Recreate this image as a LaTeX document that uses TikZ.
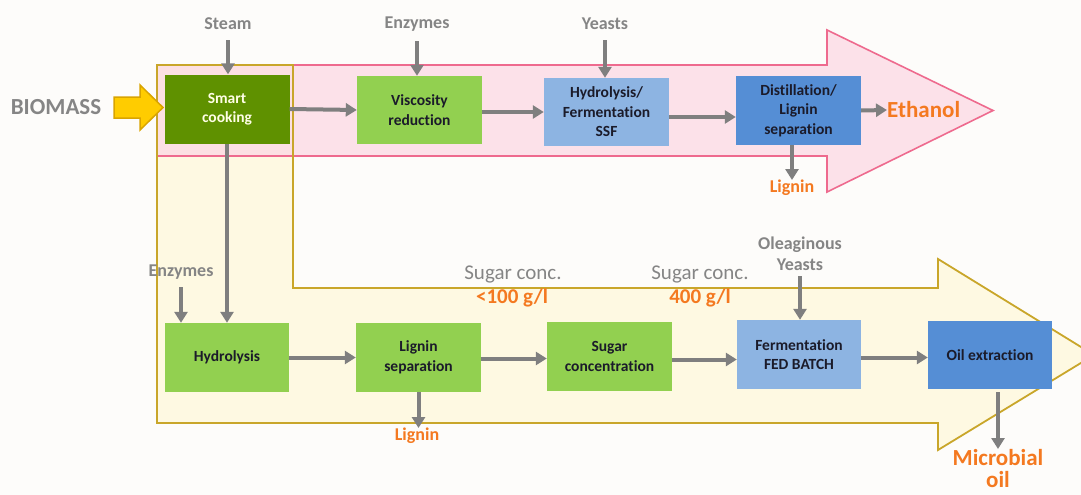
\documentclass[tikz,border=0pt]{standalone}
\usepackage{fontspec}
\setmainfont{Carlito}[Ligatures={NoCommon}]
\usetikzlibrary{arrows.meta}
\definecolor{bg}{HTML}{FDFCFA}
\definecolor{darkgreen}{HTML}{5F9100}
\definecolor{lightgreen}{HTML}{92D050}
\definecolor{lightblue}{HTML}{8DB4E2}
\definecolor{midblue}{HTML}{558ED5}
\definecolor{arrowgray}{HTML}{7F7F7F}
\definecolor{labelgray}{HTML}{858585}
\definecolor{outorange}{HTML}{F47920}
\definecolor{boxtext}{HTML}{1B1B2A}
\definecolor{cream}{HTML}{FEF9E2}
\definecolor{olive}{HTML}{C9A62A}
\definecolor{pinkfill}{HTML}{FCD8E4}
\definecolor{pinkline}{HTML}{EE6A8E}
\definecolor{bioyellow}{HTML}{FFCC00}
\definecolor{bioedge}{HTML}{D9A400}
\tikzset{
  procbox/.style={minimum width=125pt, minimum height=69pt, inner sep=0pt, align=center,
    text=boxtext, font=\fontsize{15.5}{19.5}\selectfont\bfseries},
  conn/.style={draw=arrowgray, line width=4pt, -{Triangle[length=11pt,width=13pt]}},
  inlabel/.style={text=labelgray, font=\fontsize{18}{21}\selectfont\bfseries, inner sep=0pt, align=center},
  outlabel/.style={text=outorange, font=\fontsize{18}{21}\selectfont\bfseries, inner sep=0pt, align=center},
  biglabel/.style={text=outorange, font=\fontsize{23}{22}\selectfont\bfseries, inner sep=0pt, align=center},
  conclabel/.style={text=labelgray, font=\fontsize{21}{24}\selectfont, inner sep=0pt},
  concval/.style={text=outorange, font=\fontsize{21}{24}\selectfont\bfseries, inner sep=0pt},
}
\begin{document}
\begin{tikzpicture}[x=1pt,y=-1pt]
\clip (0,0) rectangle (1081,495);
\fill[bg] (0,0) rectangle (1081,495);

% big yellow arrow (fill)
\fill[cream] (157,65) -- (293,65) -- (293,288) -- (938,288) -- (938,259) -- (1094,355)
  -- (938,450) -- (938,423) -- (157,423) -- cycle;
% pink arrow
\filldraw[fill=pinkfill, fill opacity=0.75, draw=pinkline, line width=1.6pt, line join=miter]
  (157,65) -- (827,65) -- (827,30) -- (993,110.5) -- (827,192) -- (827,156) -- (157,156) -- cycle;
% yellow outline on top
\draw[olive, line width=1.8pt, line join=miter]
  (157,65) -- (293,65) -- (293,288) -- (938,288) -- (938,259) -- (1094,355)
  -- (938,450) -- (938,423) -- (157,423) -- cycle;

% biomass
\node[text=labelgray, font=\fontsize{23}{26}\selectfont\bfseries, inner sep=0pt] (biomass) at (56,107) {BIOMASS};
\filldraw[fill=bioyellow, draw=bioedge, line width=1.5pt, line join=miter]
  (114,97) -- (140,97) -- (140,85) -- (163,107.5) -- (140,130) -- (140,118) -- (114,118) -- cycle;

% top row boxes
\node[procbox, fill=darkgreen, text=white!90!yellow] (smart) at (227,109) {Smart\\cooking};
\node[procbox, fill=lightgreen, minimum height=68pt] (visc) at (419.5,110) {Viscosity\\reduction};
\node[procbox, fill=lightblue, minimum height=68pt] (ssf) at (606.5,112) {Hydrolysis/\\Fermentation\\SSF};
\node[procbox, fill=midblue] (dist) at (798.5,110.5) {Distillation/\\Lignin\\separation};

% bottom row boxes
\node[procbox, fill=lightgreen, minimum width=124pt] (hydro) at (227,357.5) {Hydrolysis};
\node[procbox, fill=lightgreen] (lsep) at (418.5,357.5) {Lignin\\separation};
\node[procbox, fill=lightgreen] (sugar) at (609.5,356.5) {Sugar\\concentration};
\node[procbox, fill=lightblue, minimum width=124pt] (ferm) at (799,354.5) {Fermentation\\FED BATCH};
\node[procbox, fill=midblue, minimum width=124pt, minimum height=68pt] (oil) at (990,355) {Oil extraction};

% input labels
\node[inlabel] (steam) at (228,24) {Steam};
\node[inlabel] (enz1) at (417,24) {Enzymes};
\node[inlabel] (yeast) at (605,24) {Yeasts};
\node[inlabel] (enz2) at (181,272) {Enzymes};
\node[inlabel] (oleag) at (800,254) {Oleaginous\\Yeasts};

% outputs
\node[biglabel, anchor=west] (ethanol) at (887,110) {Ethanol};
\node[outlabel, anchor=north] (lig1) at (792,180) {Lignin};
\node[outlabel, anchor=north] (lig2) at (417,428) {Lignin};
\node[biglabel, anchor=north] (micro) at (998,449) {Microbial\\oil};

% sugar concentration labels
\node[conclabel] (sc1) at (513,274) {Sugar conc.};
\node[concval] (sv1) at (512,298) {<100 g/l};
\node[conclabel] (sc2) at (700,274) {Sugar conc.};
\node[concval] (sv2) at (700,298) {400 g/l};

% connectors
\draw[conn, shorten <=10pt] (steam.south) -- (steam.south |- smart.north);
\draw[conn, shorten <=10pt] (enz1.south) -- (enz1.south |- visc.north);
\draw[conn, shorten <=10pt] (yeast.south) -- (yeast.south |- ssf.north);
\draw[conn, shorten <=8pt] (enz2.south) -- (enz2.south |- hydro.north);
\draw[conn, shorten <=5pt] (oleag.south) -- (oleag.south |- ferm.north);

\draw[conn] (smart.east) -- (visc.west);
\draw[conn] ([yshift=-2pt]visc.east) -- ([yshift=-2pt]visc.east -| ssf.west);
\draw[conn] ([yshift=-5pt]ssf.east) -- ([yshift=-5pt]ssf.east -| dist.west);
\draw[conn] (dist.east) -- (ethanol.west);
\draw[conn] ([xshift=-6.5pt]dist.south) -- ([xshift=-6.5pt]dist.south |- lig1.north);
\draw[conn] (smart.south) -- (smart.south |- hydro.north);

\draw[conn] (hydro.east) -- (lsep.west);
\draw[conn] ([yshift=-1pt]lsep.east) -- ([yshift=-1pt]lsep.east -| sugar.west);
\draw[conn] ([yshift=-3pt]sugar.east) -- ([yshift=-3pt]sugar.east -| ferm.west);
\draw[conn] ([yshift=-3pt]ferm.east) -- ([yshift=-3pt]ferm.east -| oil.west);
\draw[conn] (lsep.south) -- (lsep.south |- lig2.north);
\draw[conn, shorten <=3pt] ([xshift=8pt]oil.south) -- ([xshift=8pt]oil.south |- micro.north);
\end{tikzpicture}
\end{document}
